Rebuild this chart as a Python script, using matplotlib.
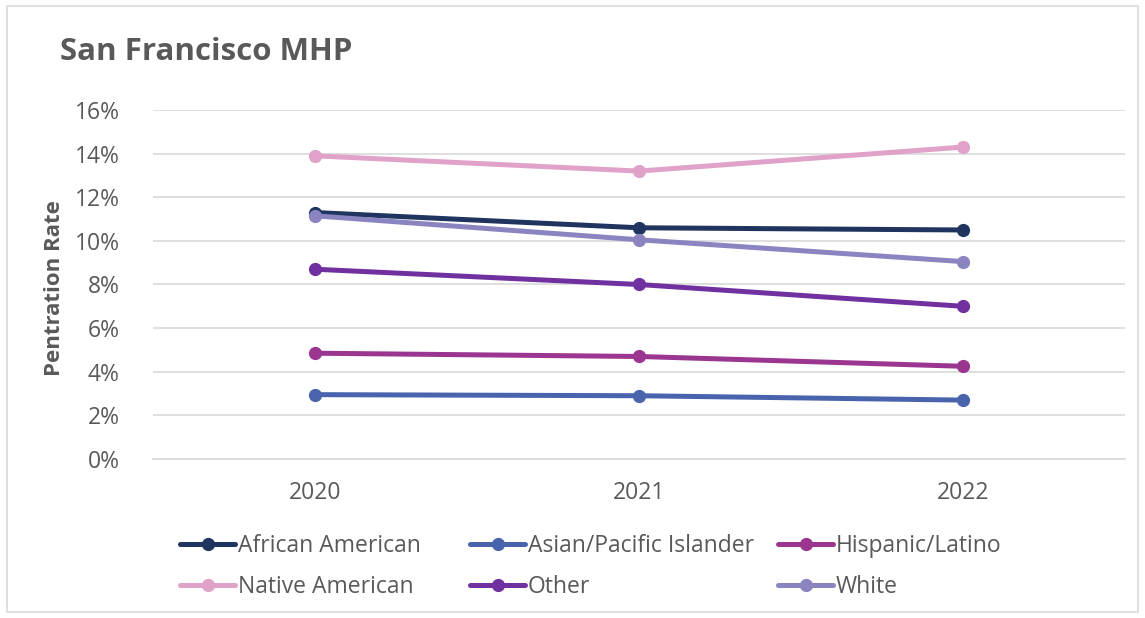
import matplotlib.pyplot as plt
from matplotlib.patches import Rectangle
from matplotlib.ticker import FuncFormatter

plt.rcParams['font.family'] = ['Open Sans', 'DejaVu Sans']

years = ['2020', '2021', '2022']
african_american = [11.3, 10.6, 10.5]
asian_pacific = [2.95, 2.9, 2.7]
hispanic_latino = [4.85, 4.7, 4.25]
native_american = [13.9, 13.2, 14.3]
other = [8.7, 8.0, 7.0]
white = [11.15, 10.05, 9.05]

series = [
    ('African American', african_american, '#1f3560'),
    ('Asian/Pacific Islander', asian_pacific, '#4a63ad'),
    ('Hispanic/Latino', hispanic_latino, '#9a3590'),
    ('Native American', native_american, '#e0a2c8'),
    ('Other', other, '#7030a0'),
    ('White', white, '#8a84c0'),
]

text_grey = '#595959'

fig = plt.figure(figsize=(11.45, 6.18), dpi=100)
fig.patches.append(Rectangle((0.006, 0.01), 0.988, 0.98, transform=fig.transFigure,
                             fill=False, edgecolor='#d9d9d9', linewidth=1.2))
ax = fig.add_axes([0.1336, 0.2573, 0.8489, 0.5647])

x = range(len(years))
handles = {}
for i, (name, vals, col) in enumerate(series):
    ln, = ax.plot(x, vals, color=col, linewidth=3.6, marker='o', markersize=8.5,
                  solid_capstyle='round', label=name, zorder=3 + i)
    handles[name] = ln

ax.set_xlim(-0.5, 2.5)
ax.set_ylim(0, 16)
ax.set_yticks(range(0, 17, 2))
ax.yaxis.set_major_formatter(FuncFormatter(lambda v, p: f'{int(v)}%'))
ax.set_xticks(list(x))
ax.set_xticklabels(years)
ax.grid(axis='y', color='#d9d9d9', linewidth=1.2)
ax.set_axisbelow(True)
for s in ['top', 'right', 'left']:
    ax.spines[s].set_visible(False)
ax.spines['bottom'].set_color('#d9d9d9')
ax.spines['bottom'].set_linewidth(1.2)
ax.tick_params(length=0, labelsize=16.5, labelcolor=text_grey)
ax.tick_params(axis='x', pad=16)
ax.tick_params(axis='y', pad=24)

ax.set_ylabel('Pentration Rate', fontsize=16, fontweight='bold', color=text_grey)
ax.yaxis.set_label_coords(-0.091, 0.49)

fig.text(0.052, 0.916, 'San Francisco MHP', fontsize=22.5, fontweight='bold',
         color=text_grey, va='center', ha='left')

# legend laid out as three single-column blocks, like Excel's fixed-width entries
columns = [
    (['African American', 'Native American'], 180),
    (['Asian/Pacific Islander', 'Other'], 470),
    (['Hispanic/Latino', 'White'], 778),
]
for names, xpix in columns:
    leg = fig.legend([handles[n] for n in names], names, loc='center left',
                     bbox_to_anchor=(xpix / 1145, 1 - 566.5 / 618), frameon=False,
                     fontsize=16.5, handlelength=2.4, handletextpad=0.12,
                     labelspacing=0.78, borderpad=0, borderaxespad=0,
                     labelcolor=text_grey)

fig.savefig('out.png', dpi=100)
